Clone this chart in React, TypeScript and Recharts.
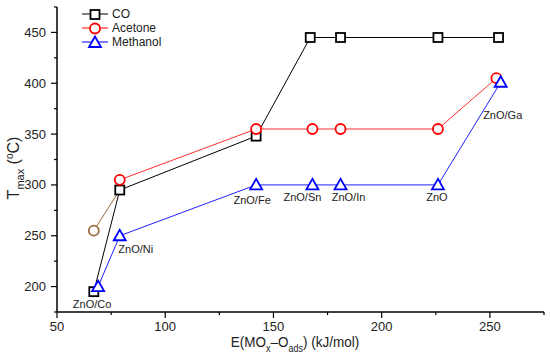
import React from 'react';
import { LineChart, Line, XAxis, YAxis, LabelList } from 'recharts';

// E(MOx - Oads) in kJ/mol, Tmax in °C
const coX = [67, 79, 142, 167, 181, 226, 254];
const coY = [195, 295, 348, 445, 445, 445, 445];

const acetoneX = [79, 142, 168, 181, 226, 253];
const acetoneY = [305, 355, 355, 355, 355, 405];

// ZnO/Co acetone point, drawn apart in brown with its link to the CO point
const acetoneLinkX = [67, 79];
const acetoneLinkY = [255, 295];

const methanolX = [69, 79, 142, 168, 181, 226, 255];
const methanolY = [200, 250, 300, 300, 300, 300, 401];

const catalysts = ['ZnO/Co', 'ZnO/Ni', 'ZnO/Fe', 'ZnO/Sn', 'ZnO/In', 'ZnO', 'ZnO/Ga'];

const xTicks = [50, 75, 100, 125, 150, 175, 200, 225, 250, 275];
const yTicks = [175, 200, 225, 250, 275, 300, 325, 350, 375, 400, 425, 450, 475];

const coData = coX.map((x, i) => ({ x, y: coY[i] }));
const acetoneData = acetoneX.map((x, i) => ({ x, y: acetoneY[i] }));
const linkData = acetoneLinkX.map((x, i) => ({ x, y: acetoneLinkY[i] }));
const methanolData = methanolX.map((x, i) => ({ x, y: methanolY[i], name: catalysts[i] }));

const FONT = 'Arial, "Liberation Sans", sans-serif';

// label placement relative to each methanol point
const labelShift = [[-6, 17], [16, 13], [-4, 15], [-10, 12], [8, 12], [-1, 12], [2, 33]];

const Square = ({ cx, cy, stroke = '#000' }: any) => (
  <rect x={cx - 4.5} y={cy - 4.5} width={9} height={9} fill="#fff" stroke={stroke} strokeWidth={1.8} />
);
const Circle = ({ cx, cy, stroke = '#ff0000' }: any) => (
  <circle cx={cx} cy={cy} r={5} fill="#fff" stroke={stroke} strokeWidth={1.8} />
);
const Triangle = ({ cx, cy, stroke = '#0000ff' }: any) => (
  <polygon points={`${cx},${cy - 6} ${cx - 6},${cy + 4.5} ${cx + 6},${cy + 4.5}`} fill="#fff" stroke={stroke} strokeWidth={1.8} />
);

const XTick = ({ x, y, payload }: any) => {
  const major = payload.value % 50 === 0;
  return (
    <g>
      <line x1={x} x2={x} y1={y} y2={y + (major ? 6 : 3)} stroke="#000" strokeWidth={1.2} />
      {major && (
        <text x={x} y={y + 19} textAnchor="middle" fontSize={13} fontFamily={FONT} fill="#222">
          {payload.value}
        </text>
      )}
    </g>
  );
};

const YTick = ({ x, y, payload }: any) => {
  const major = payload.value % 50 === 0;
  return (
    <g>
      <line x1={x} x2={x - (major ? 6 : 3)} y1={y} y2={y} stroke="#000" strokeWidth={1.2} />
      {major && (
        <text x={x - 11} y={y + 4.5} textAnchor="end" fontSize={13} fontFamily={FONT} fill="#222">
          {payload.value}
        </text>
      )}
    </g>
  );
};

const CatalystLabel = (props: any) => {
  const { x, y, index, value } = props;
  const [dx, dy] = labelShift[index] || [0, 12];
  return (
    <text x={x + dx} y={y + dy + 4} textAnchor="middle" fontSize={11} fontFamily={FONT} fill="#222">
      {value}
    </text>
  );
};

const XTitle = () => (
  <text transform="translate(295,347) scale(0.9,1)" textAnchor="middle" fontSize={15} fontFamily={FONT} fill="#222">
    E(MO<tspan fontSize={10} dy={5}>x</tspan>
    <tspan dy={-5}>–O</tspan>
    <tspan fontSize={10} dy={5}>ads</tspan>
    <tspan dy={-5}>) (kJ/mol)</tspan>
  </text>
);

const YTitle = () => (
  <text transform="translate(19,168) rotate(-90)" textAnchor="middle" fontSize={16} fontFamily={FONT} fill="#222">
    T<tspan fontSize={11} dy={5}>max</tspan>
    <tspan dy={-5}>{'  ('}</tspan>
    <tspan fontSize={10} dy={-6}>o</tspan>
    <tspan dy={6}>C)</tspan>
  </text>
);

const legendItems = [
  { name: 'CO', color: '#000', Marker: Square },
  { name: 'Acetone', color: '#ff0000', Marker: Circle },
  { name: 'Methanol', color: '#0000ff', Marker: Triangle },
];

export default function App() {
  return (
    <div style={{ position: 'absolute', left: 0, top: 0, width: 550, height: 357, background: '#fff' }}>
      <LineChart width={550} height={357} margin={{ top: 7, right: 6, left: 0, bottom: 0 }}>
        <XAxis
          type="number"
          dataKey="x"
          domain={[50, 275]}
          ticks={xTicks}
          interval={0}
          tickSize={0}
          tickMargin={0}
          tick={<XTick />}
          height={45}
          axisLine={{ stroke: '#000', strokeWidth: 1.5 }}
          allowDuplicatedCategory={false}
          label={{ content: () => <XTitle /> }}
        />
        <YAxis
          type="number"
          dataKey="y"
          domain={[175, 475]}
          ticks={yTicks}
          interval={0}
          tickSize={0}
          tickMargin={0}
          tick={<YTick />}
          width={57}
          axisLine={{ stroke: '#000', strokeWidth: 1.5 }}
          label={{ content: () => <YTitle /> }}
        />
        <Line
          data={linkData}
          dataKey="y"
          stroke="#9a6a3a"
          strokeWidth={1}
          isAnimationActive={false}
          dot={(p: any) => (p.index === 0 ? <Circle key={p.key} cx={p.cx} cy={p.cy} stroke="#9a6a3a" /> : <g key={p.key} />)}
          activeDot={false}
        />
        <Line
          data={coData}
          dataKey="y"
          stroke="#000"
          strokeWidth={1}
          isAnimationActive={false}
          dot={(p: any) => <Square key={p.key} cx={p.cx} cy={p.cy} />}
          activeDot={false}
        />
        <Line
          data={acetoneData}
          dataKey="y"
          stroke="#ff3030"
          strokeWidth={1}
          isAnimationActive={false}
          dot={(p: any) => <Circle key={p.key} cx={p.cx} cy={p.cy} />}
          activeDot={false}
        />
        <Line
          data={methanolData}
          dataKey="y"
          stroke="#2020ff"
          strokeWidth={1}
          isAnimationActive={false}
          dot={(p: any) => <Triangle key={p.key} cx={p.cx} cy={p.cy} />}
          activeDot={false}
        >
          <LabelList dataKey="name" content={<CatalystLabel />} />
        </Line>
      </LineChart>
      <div style={{ position: 'absolute', left: 81, top: 7, fontFamily: FONT, fontSize: 12, color: '#222' }}>
        {legendItems.map(({ name, color, Marker }) => (
          <div key={name} style={{ display: 'flex', alignItems: 'center', height: 14 }}>
            <svg width={28} height={14}>
              <line x1={1} x2={27} y1={7} y2={7} stroke={color} strokeWidth={1} />
              <Marker cx={14} cy={7.5} stroke={color} />
            </svg>
            <span style={{ marginLeft: 3 }}>{name}</span>
          </div>
        ))}
      </div>
    </div>
  );
}
